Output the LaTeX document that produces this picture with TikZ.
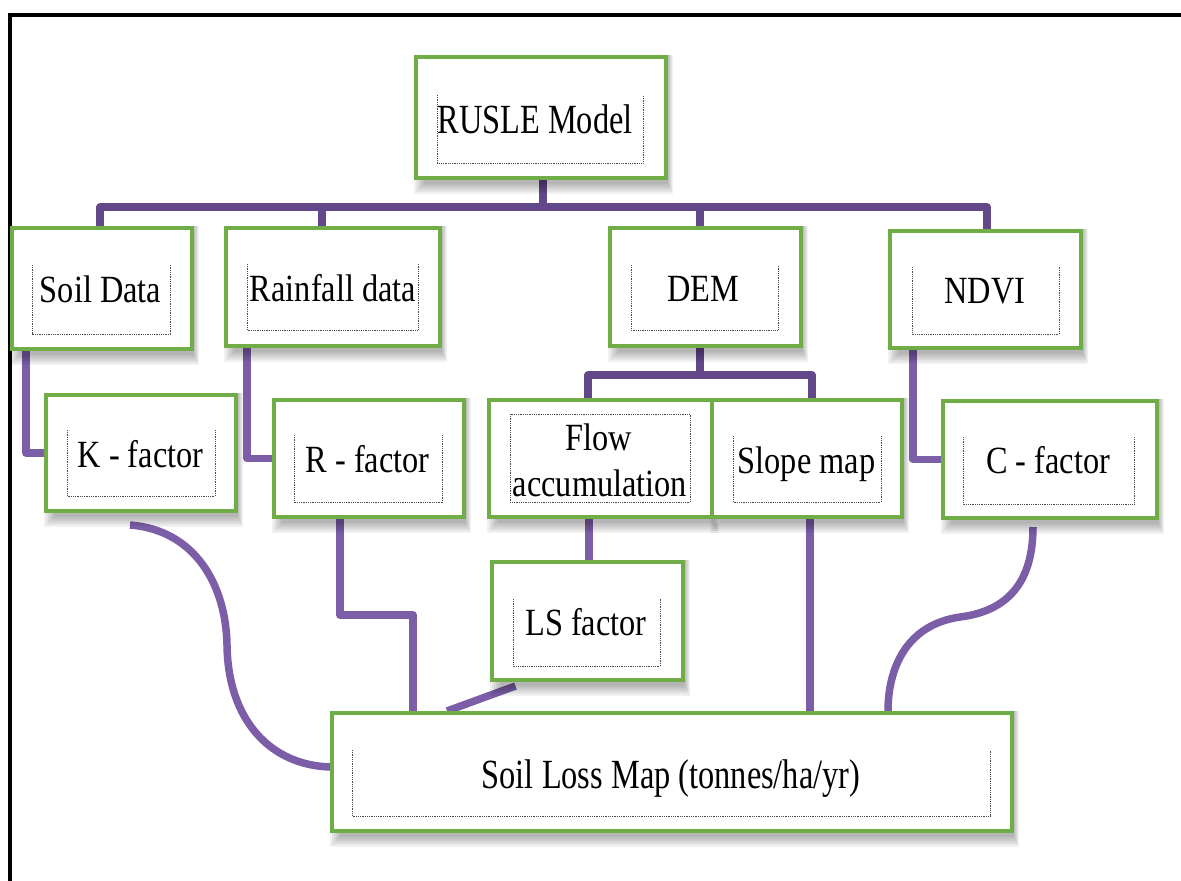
\documentclass[tikz,border=0pt]{standalone}
\usepackage{fontspec}
\newfontfamily\boxfont[FakeStretch=0.84]{Liberation Serif}
\newfontfamily\bigfont[FakeStretch=0.78]{Liberation Serif}
\definecolor{boxgreen}{HTML}{70AD47}
\definecolor{busviolet}{HTML}{62478A}
\definecolor{linkviolet}{HTML}{7C5EA8}
\definecolor{dotgray}{HTML}{4A4A4A}
\pgfdeclarelayer{background}
\pgfdeclarelayer{shade}
\pgfsetlayers{background,shade,main}
\tikzset{
  box/.style={draw=boxgreen, line width=4pt, fill=white, inner sep=0pt},
  shadowpiece/.style={fill=black, opacity=0.055},
  innerline/.style={draw=dotgray, line width=0.9pt, dash pattern=on 0.9pt off 0.9pt},
  lbl/.style={font=\boxfont\fontsize{38.5}{40}\selectfont, inner sep=0pt, anchor=base},
  biglbl/.style={font=\bigfont\fontsize{41.5}{43}\selectfont, inner sep=0pt, anchor=base},
  bus/.style={draw=busviolet, line width=7.5pt, line join=round},
  conn/.style={draw=linkviolet, line width=7.5pt, line join=round},
}
\begin{document}
\begin{tikzpicture}[x=1pt, y=-1pt]
\useasboundingbox (0,0) rectangle (1181,881);
% frame
\draw[line width=4pt] (10,881) -- (10,15) -- (1181,15);

% boxes
\node[box, minimum width=250pt, minimum height=121pt] (rusle) at (541,117.5) {};
\node[box, minimum width=180pt, minimum height=121pt] (soil)  at (102,288.5) {};
\node[box, minimum width=214pt, minimum height=118pt] (rain)  at (333,287) {};
\node[box, minimum width=191pt, minimum height=118pt] (dem)   at (705,287) {};
\node[box, minimum width=191pt, minimum height=117pt] (ndvi)  at (985,289.5) {};
\node[box, minimum width=190pt, minimum height=116pt] (kf)    at (141,453) {};
\node[box, minimum width=190pt, minimum height=117pt] (rf)    at (369,458.5) {};
\node[box, minimum width=223pt, minimum height=117pt] (flow)  at (600.5,458.5) {};
\node[box, minimum width=190pt, minimum height=117pt] (slope) at (807,458.5) {};
\node[box, minimum width=214pt, minimum height=117pt] (cf)    at (1050,459.5) {};
\node[box, minimum width=191pt, minimum height=118pt] (ls)    at (587.5,621) {};
\node[box, minimum width=680pt, minimum height=118pt] (loss)  at (672,772) {};

% soft shadows under the boxes
\begin{pgfonlayer}{shade}
  \foreach \n in {rusle,soil,rain,dem,ndvi,kf,rf,flow,slope,cf,ls,loss}{
    \foreach \k in {0,...,5}{
      \fill[shadowpiece] ([xshift=\k*2pt]\n.north west)
        rectangle ([xshift=5pt-\k*1pt, yshift=-14pt+\k*2pt]\n.south east);
    }
  }
\end{pgfonlayer}

% dotted text frames
\draw[innerline] (437,95)  |- (643,163) -- (643,95);
\draw[innerline] (32,265)  |- (170,334) -- (170,265);
\draw[innerline] (247,264) |- (418,330) -- (418,264);
\draw[innerline] (631,265) |- (778,330) -- (778,265);
\draw[innerline] (912,267) |- (1059,334) -- (1059,267);
\draw[innerline] (67,430)  |- (215,496) -- (215,430);
\draw[innerline] (294,435) |- (442,502) -- (442,435);
\draw[innerline] (510,414) rectangle (690,502);
\draw[innerline] (733,436) |- (881,502) -- (881,436);
\draw[innerline] (963,437) |- (1134,504) -- (1134,437);
\draw[innerline] (513,599) |- (660,666) -- (660,599);
\draw[innerline] (352,750) |- (990,816) -- (990,750);

% labels
\node[biglbl] (t-rusle) at (535,133) {RUSLE Model};
\node[lbl] (t-soil)  at (100.5,302) {Soil Data};
\node[lbl] (t-rain)  at (333,301) {Rainfall data};
\node[lbl] (t-dem)   at (703.5,301) {DEM};
\node[lbl] (t-ndvi)  at (985,303) {NDVI};
\node[lbl] (t-kf)    at (140.5,467) {K - factor};
\node[lbl] (t-rf)    at (367.5,472) {R - factor};
\node[lbl] (t-flow1) at (599,450) {Flow};
\node[lbl] (t-flow2) at (600,496) {accumulation};
\node[lbl] (t-slope) at (806.5,473) {Slope map};
\node[lbl] (t-cf)    at (1048,473) {C - factor};
\node[lbl] (t-ls)    at (586,635) {LS factor};
\node[biglbl] (t-loss) at (671,788) {Soil Loss Map (tonnes/ha/yr)};

% connectors
\coordinate (busL) at (100,207);
\coordinate (busR) at (987,207);
\coordinate (dembar) at (700,375);
\coordinate (rstep) at (413,615);
\begin{pgfonlayer}{background}
  \draw[bus] (soil.north -| busL) -- (busL) -- (busR) -- (ndvi.north -| busR);
  \draw[bus] ([xshift=2pt]rusle.south) -- ([xshift=2pt]rusle.south |- busL);
  \draw[bus] ([xshift=-11pt]rain.north) -- ([xshift=-11pt]rain.north |- busL);
  \draw[bus] ([xshift=-5pt]dem.north) -- ([xshift=-5pt]dem.north |- busL);

  \draw[conn] ([xshift=-76pt]soil.south) |- (kf.west);
  \draw[conn] ([xshift=-86pt]rain.south) |- (rf.west);
  \draw[conn] ([xshift=-72pt]ndvi.south) |- (cf.west);

  \draw[bus] ([xshift=-5pt]dem.south) -- ([xshift=-5pt]dem.south |- dembar);
  \draw[bus] ([xshift=-12.5pt]flow.north) |- ([xshift=5pt]slope.north |- dembar)
             -- ([xshift=5pt]slope.north);

  \draw[conn] ([xshift=-11.5pt]flow.south) -- ([xshift=-11.5pt]flow.south |- ls.north);
  \draw[conn] ([xshift=-29pt]rf.south) |- (rstep) -- (rstep |- loss.north);
  \draw[conn] ([xshift=-72pt,yshift=-4pt]ls.south) -- ([xshift=-225pt]loss.north);
  \draw[conn] ([xshift=3pt]slope.south) -- ([xshift=3pt]slope.south |- loss.north);

  \draw[conn] ([xshift=-11pt,yshift=-12pt]kf.south)
      .. controls (195,530) and (226,585) .. (227,645)
      .. controls (228,720) and (270,765) .. ([yshift=5pt]loss.west);
  \draw[conn] ([xshift=-17pt,yshift=-7pt]cf.south)
      .. controls (1033,590) and (1000,612) .. (960,617)
      .. controls (905,625) and (888,670) .. ([xshift=216pt]loss.north);
\end{pgfonlayer}
\end{tikzpicture}
\end{document}
